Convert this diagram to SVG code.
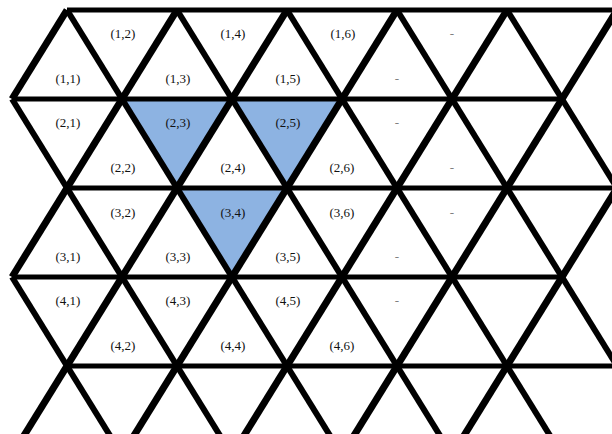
<svg xmlns="http://www.w3.org/2000/svg" width="612" height="434" viewBox="0 0 612 434">
<style>
.h{stroke:#000;stroke-width:5;fill:none}
.dr{stroke:#000;stroke-width:6;fill:none}
.dl{stroke:#000;stroke-width:7;fill:none}
text{font-family:"Liberation Serif","Times New Roman",serif;font-size:13px;text-anchor:middle;fill:#111}
text.dash{fill:#808080}
.hl{fill:#8DB3E2}
</style>
<rect width="612" height="434" fill="#fff"/>
<g id="cell-1-1"><text x="68" y="83">(1,1)</text></g>
<g id="cell-1-2"><text x="123" y="38">(1,2)</text></g>
<g id="cell-1-3"><text x="178" y="83">(1,3)</text></g>
<g id="cell-1-4"><text x="233" y="38">(1,4)</text></g>
<g id="cell-1-5"><text x="288" y="83">(1,5)</text></g>
<g id="cell-1-6"><text x="343" y="38">(1,6)</text></g>
<g id="cell-1-7"><text class="dash" x="397" y="83">-</text></g>
<g id="cell-1-8"><text class="dash" x="452" y="38">-</text></g>
<g id="cell-2-1"><text x="68" y="127">(2,1)</text></g>
<g id="cell-2-2"><text x="123" y="172">(2,2)</text></g>
<g id="cell-2-3"><polygon class="hl" points="122,99 232,99 177,188"/><text x="178" y="127">(2,3)</text></g>
<g id="cell-2-4"><text x="233" y="172">(2,4)</text></g>
<g id="cell-2-5"><polygon class="hl" points="232,99 342,99 287,188"/><text x="288" y="127">(2,5)</text></g>
<g id="cell-2-6"><text x="342" y="172">(2,6)</text></g>
<g id="cell-2-7"><text class="dash" x="397" y="127">-</text></g>
<g id="cell-2-8"><text class="dash" x="452" y="172">-</text></g>
<g id="cell-3-1"><text x="68" y="261">(3,1)</text></g>
<g id="cell-3-2"><text x="123" y="217">(3,2)</text></g>
<g id="cell-3-3"><text x="178" y="261">(3,3)</text></g>
<g id="cell-3-4"><polygon class="hl" points="177,188 287,188 232,277"/><text x="233" y="217">(3,4)</text></g>
<g id="cell-3-5"><text x="288" y="261">(3,5)</text></g>
<g id="cell-3-6"><text x="342" y="217">(3,6)</text></g>
<g id="cell-3-7"><text class="dash" x="397" y="261">-</text></g>
<g id="cell-3-8"><text class="dash" x="452" y="217">-</text></g>
<g id="cell-4-1"><text x="68" y="305">(4,1)</text></g>
<g id="cell-4-2"><text x="123" y="350">(4,2)</text></g>
<g id="cell-4-3"><text x="178" y="305">(4,3)</text></g>
<g id="cell-4-4"><text x="233" y="350">(4,4)</text></g>
<g id="cell-4-5"><text x="288" y="305">(4,5)</text></g>
<g id="cell-4-6"><text x="342" y="350">(4,6)</text></g>
<g id="cell-4-7"><text class="dash" x="397" y="305">-</text></g>
<g id="connectors">
<line class="h" x1="67" y1="10" x2="612" y2="10"/>
<line class="h" x1="12" y1="99" x2="562" y2="99"/>
<line class="h" x1="67" y1="188" x2="612" y2="188"/>
<line class="h" x1="12" y1="277" x2="562" y2="277"/>
<line class="h" x1="67" y1="366" x2="612" y2="366"/>
<line class="dr" x1="67" y1="10" x2="342" y2="455"/>
<line class="dr" x1="177" y1="10" x2="452" y2="455"/>
<line class="dr" x1="287" y1="10" x2="562" y2="455"/>
<line class="dr" x1="397" y1="10" x2="672" y2="455"/>
<line class="dr" x1="507" y1="10" x2="782" y2="455"/>
<line class="dr" x1="12" y1="99" x2="232" y2="455"/>
<line class="dr" x1="12" y1="277" x2="122" y2="455"/>
<line class="dl" x1="67" y1="10" x2="12" y2="99"/>
<line class="dl" x1="177" y1="10" x2="12" y2="277"/>
<line class="dl" x1="287" y1="10" x2="12" y2="455"/>
<line class="dl" x1="397" y1="10" x2="122" y2="455"/>
<line class="dl" x1="507" y1="10" x2="232" y2="455"/>
<line class="dl" x1="617" y1="10" x2="342" y2="455"/>
<line class="dl" x1="617" y1="188" x2="452" y2="455"/>
</g>
</svg>
